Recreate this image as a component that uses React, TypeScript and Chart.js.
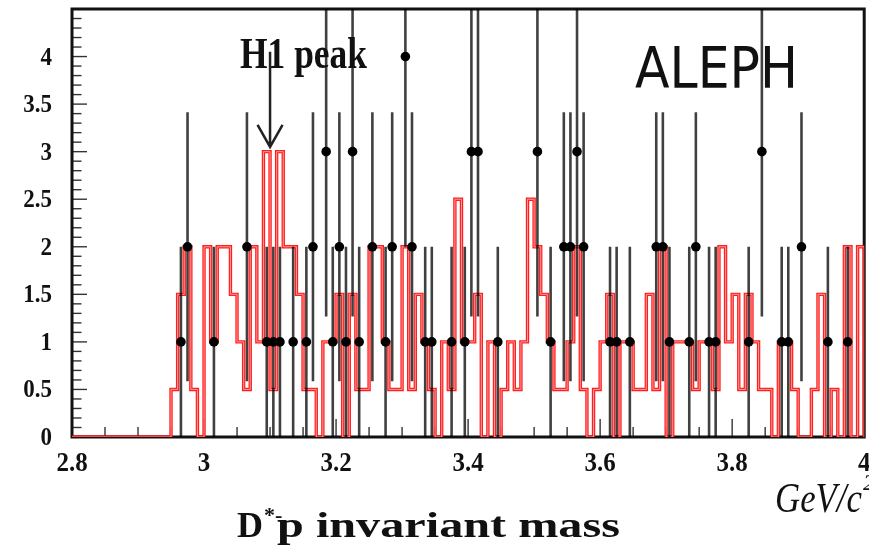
import React, { useEffect, useRef } from "react";
import { Chart, registerables } from "chart.js";

Chart.register(...registerables);

// ---------- data ----------
const HIST_MIN = 2.8;
const HIST_MAX = 4.0;
const Y_MAX = 4.5;

// Simulated shape (red step histogram), 10 MeV bins from 2.80 to 4.00 GeV/c^2
const mcShape: number[] = [
  0, 0, 0, 0, 0, 0, 0, 0, 0, 0, // 2.80
  0, 0, 0, 0, 0, 0.5, 1.5, 2, 0.5, 0, // 2.90
  2, 1, 2, 2, 1.5, 1, 0.5, 2, 1, 3, // 3.00
  0.5, 3, 2, 2, 1.5, 0.5, 0.5, 0, 1, 1, // 3.10
  1.5, 0, 1.5, 0.5, 0.5, 2, 2, 1, 0.5, 0.5, // 3.20
  2, 0.5, 1.5, 1, 0.5, 0, 1, 0.5, 2.5, 1, // 3.30
  1, 1.5, 0, 1, 0, 0.5, 1, 0.5, 1, 2.5, // 3.40
  2, 1.5, 1, 0.5, 0.5, 1, 2, 0.5, 0, 0.5, // 3.50
  1, 1.5, 0, 1, 1, 0.5, 0.5, 1.5, 0.5, 2, // 3.60
  0, 1, 1, 1, 0.5, 1, 1, 0.5, 2, 1, // 3.70
  1.5, 0.5, 1.5, 1, 0.5, 0.5, 0, 1, 1, 0.5, // 3.80
  0, 0, 0.5, 1.5, 0, 0.5, 0, 2, 0, 2, // 3.90
];

// Data: candidate counts per 10 MeV bin (black points)
const dataCounts: number[] = [
  0, 0, 0, 0, 0, 0, 0, 0, 0, 0, // 2.80
  0, 0, 0, 0, 0, 0, 1, 2, 0, 0, // 2.90
  0, 1, 0, 0, 0, 0, 2, 0, 0, 1, // 3.00
  1, 1, 0, 1, 0, 1, 2, 0, 3, 1, // 3.10
  2, 1, 3, 1, 0, 2, 0, 1, 2, 0, // 3.20
  4, 2, 0, 1, 1, 0, 0, 1, 0, 1, // 3.30
  3, 3, 0, 0, 1, 0, 0, 0, 0, 0, // 3.40
  3, 0, 1, 0, 2, 2, 3, 2, 0, 0, // 3.50
  0, 1, 1, 0, 1, 0, 0, 0, 2, 2, // 3.60
  1, 0, 0, 1, 2, 0, 1, 1, 0, 0, // 3.70
  0, 0, 1, 0, 3, 0, 0, 1, 1, 0, // 3.80
  2, 0, 0, 0, 1, 0, 0, 1, 0, 0, // 3.90
];

const xTickValues = [2.8, 3.0, 3.2, 3.4, 3.6, 3.8, 4.0];
const xTickLabels = ["2.8", "3", "3.2", "3.4", "3.6", "3.8", "4"];
const yTickValues = [0, 0.5, 1, 1.5, 2, 2.5, 3, 3.5, 4];
const yTickLabels = ["0", "0.5", "1", "1.5", "2", "2.5", "3", "3.5", "4"];

const peakLabel = "H1 peak";
const peakMass = 3.1;
const peakArrowTop = 4.05;
const peakArrowTip = 3.05;
const experimentLabel = "ALEPH";
const titleMain = "D";
const titleSup = "*-";
const titleRest = "p invariant mass";
const unitMain = "GeV/c";
const unitSup = "2";

// ---------- helpers ----------
function fitText(
  ctx: CanvasRenderingContext2D,
  text: string,
  font: string,
  x: number,
  baseline: number,
  width: number,
  scaleY: number,
  align: "left" | "center" | "right" = "left"
) {
  ctx.save();
  ctx.font = font;
  const w = ctx.measureText(text).width;
  const sx = width > 0 ? width / w : 1;
  const dw = w * sx;
  let left = x;
  if (align === "center") left = x - dw / 2;
  else if (align === "right") left = x - dw;
  ctx.translate(left, baseline);
  ctx.scale(sx, scaleY);
  ctx.textAlign = "left";
  ctx.textBaseline = "alphabetic";
  ctx.fillText(text, 0, 0);
  ctx.restore();
  return dw;
}

const decorPlugin = {
  id: "decor",
  beforeDatasetsDraw(chart: any) {
    const { ctx, chartArea: a, scales } = chart;
    const xs = scales.x;
    const ys = scales.y;
    ctx.save();
    ctx.strokeStyle = "#333";
    ctx.lineWidth = 1.4;
    // x ticks (inside): minor every 0.05, major every 0.2
    for (let k = 0; k <= 24; k++) {
      const px = xs.getPixelForValue(HIST_MIN + k * 0.05);
      const len = k % 4 === 0 ? 18 : 10;
      ctx.beginPath();
      ctx.moveTo(px, a.bottom);
      ctx.lineTo(px, a.bottom - len);
      ctx.stroke();
    }
    // y ticks (inside): minor every 0.1, major every 0.5
    for (let k = 0; k <= 45; k++) {
      const py = ys.getPixelForValue(k * 0.1);
      const len = k % 5 === 0 ? 15 : 9.5;
      ctx.beginPath();
      ctx.moveTo(a.left, py);
      ctx.lineTo(a.left + len, py);
      ctx.stroke();
    }
    // frame
    ctx.strokeStyle = "#111";
    ctx.lineWidth = 3;
    ctx.strokeRect(a.left, a.top, a.right - a.left, a.bottom - a.top);
    ctx.restore();
  },
  afterDraw(chart: any) {
    const { ctx, chartArea: a, scales } = chart;
    const xs = scales.x;
    const ys = scales.y;
    ctx.save();
    ctx.fillStyle = "#111";

    // y tick labels
    yTickValues.forEach((v, i) => {
      const py = ys.getPixelForValue(v);
      fitText(ctx, yTickLabels[i], "bold 23px 'Liberation Serif'", a.left - 20, py + 8, 0, 1.1, "right");
    });
    // x tick labels
    xTickValues.forEach((v, i) => {
      const px = xs.getPixelForValue(v);
      fitText(ctx, xTickLabels[i], "bold 25px 'Liberation Serif'", px, a.bottom + 34, 0, 1.1, "center");
    });

    // axis title
    const dW = fitText(ctx, titleMain, "bold 36px 'Liberation Serif'", 237, 537, 0, 1);
    fitText(ctx, titleSup, "bold 22px 'Liberation Serif'", 237 + dW + 1, 522, 0, 1);
    fitText(ctx, titleRest, "bold 36px 'Liberation Serif'", 277, 537, 343, 1);

    // unit
    const uW = fitText(ctx, unitMain, "italic 40px 'Liberation Serif'", 775, 512, 87, 1.05);
    fitText(ctx, unitSup, "italic 24px 'Liberation Serif'", 775 + uW + 1, 490, 0, 1);

    // H1 peak label + arrow
    fitText(ctx, peakLabel, "bold 36px 'Liberation Serif'", 240, 68, 127, 1.26);
    const ax = xs.getPixelForValue(peakMass);
    const ay0 = ys.getPixelForValue(peakArrowTop);
    const ay1 = ys.getPixelForValue(peakArrowTip);
    ctx.strokeStyle = "#222";
    ctx.lineWidth = 2.5;
    ctx.beginPath();
    ctx.moveTo(ax, ay0);
    ctx.lineTo(ax, ay1);
    ctx.moveTo(ax - 12.5, ay1 - 22);
    ctx.lineTo(ax, ay1);
    ctx.lineTo(ax + 12.5, ay1 - 22);
    ctx.stroke();

    // experiment label
    fitText(ctx, experimentLabel, "56px 'Comic Sans MS', 'DejaVu Sans'", 635, 88, 163, 1.02);
    ctx.restore();
  },
};

export default function App() {
  const canvasRef = useRef<HTMLCanvasElement | null>(null);

  useEffect(() => {
    const canvas = canvasRef.current;
    if (!canvas) return;
    const binW = (HIST_MAX - HIST_MIN) / mcShape.length;

    const histPoints = mcShape.map((v, i) => ({ x: HIST_MIN + i * binW, y: v }));
    histPoints.push({ x: HIST_MAX, y: mcShape[mcShape.length - 1] });
    histPoints.push({ x: HIST_MAX, y: 0 });

    const markers: { x: number; y: number }[] = [];
    const bars: { x: number; y: number | null }[] = [];
    dataCounts.forEach((c, i) => {
      if (c <= 0) return;
      const xc = HIST_MIN + (i + 0.5) * binW;
      const e = Math.sqrt(c);
      markers.push({ x: xc, y: c });
      bars.push({ x: xc, y: Math.max(0, c - e) });
      bars.push({ x: xc, y: c + e });
      bars.push({ x: xc, y: null });
    });

    const chart = new Chart(canvas, {
      type: "line",
      data: {
        datasets: [
          {
            type: "scatter",
            data: markers,
            pointRadius: 4.8,
            pointBackgroundColor: "#000",
            pointBorderWidth: 0,
            showLine: false,
            order: 1,
          } as any,
          {
            type: "line",
            data: bars,
            borderColor: "rgba(0,0,0,0.75)",
            borderWidth: 2.6,
            pointRadius: 0,
            spanGaps: false,
            order: 2,
          },
          {
            type: "line",
            data: histPoints,
            stepped: true,
            borderColor: "#ff9a9a",
            borderWidth: 1,
            pointRadius: 0,
            order: 3,
          },
          {
            type: "line",
            data: histPoints,
            stepped: true,
            borderColor: "rgba(255,0,0,0.88)",
            borderWidth: 3.4,
            pointRadius: 0,
            order: 4,
          },
        ],
      },
      options: {
        animation: false,
        responsive: false,
        devicePixelRatio: 1,
        events: [],
        layout: { padding: { left: 72, top: 9, right: 2, bottom: 113 } },
        plugins: { legend: { display: false }, tooltip: { enabled: false } },
        scales: {
          x: { type: "linear", min: HIST_MIN, max: HIST_MAX, display: false },
          y: { type: "linear", min: 0, max: Y_MAX, display: false },
        },
      },
      plugins: [decorPlugin],
    });
    return () => chart.destroy();
  }, []);

  return (
    <div style={{ position: "absolute", left: 0, top: 0, width: 869, height: 550, background: "#fff" }}>
      <canvas ref={canvasRef} width={869} height={550} style={{ display: "block" }} />
    </div>
  );
}
